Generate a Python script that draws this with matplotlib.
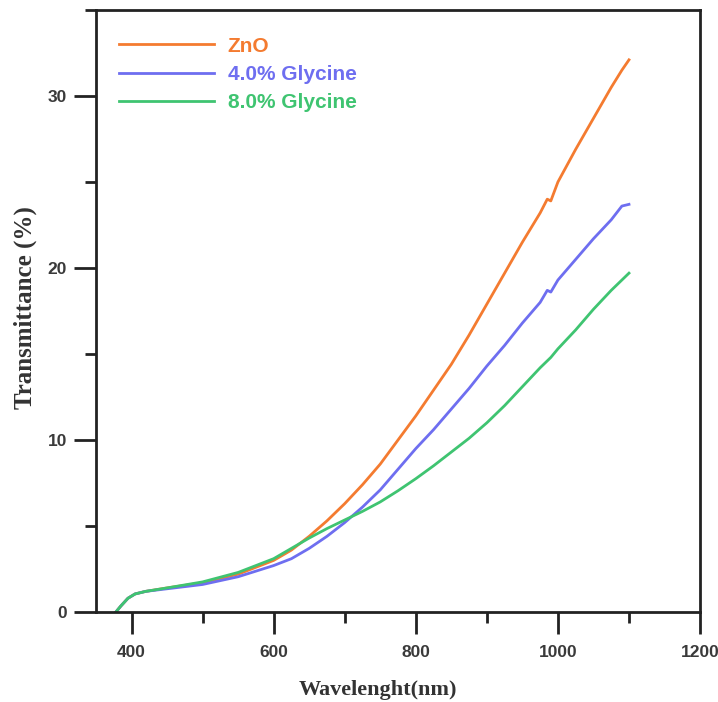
import matplotlib.pyplot as plt
from matplotlib.ticker import MultipleLocator

# --- data ---
wavelength = [378, 385, 395, 405, 420, 450, 500, 550, 600, 625, 650, 675, 700,
              725, 750, 775, 800, 825, 850, 875, 900, 925, 950, 975, 985, 990,
              1000, 1025, 1050, 1075, 1090, 1100]
zno = [0, 0.35, 0.8, 1.05, 1.2, 1.4, 1.7, 2.2, 3.0, 3.6, 4.4, 5.3, 6.3,
       7.4, 8.6, 10.0, 11.4, 12.9, 14.4, 16.1, 17.9, 19.7, 21.5, 23.2, 24.0, 23.9,
       25.0, 26.9, 28.7, 30.5, 31.5, 32.1]
gly4 = [0, 0.35, 0.8, 1.05, 1.2, 1.35, 1.6, 2.05, 2.7, 3.1, 3.7, 4.4, 5.2,
        6.1, 7.1, 8.3, 9.5, 10.6, 11.8, 13.0, 14.3, 15.5, 16.8, 18.0, 18.7, 18.6,
        19.3, 20.5, 21.7, 22.8, 23.6, 23.7]
gly8 = [0, 0.35, 0.8, 1.05, 1.2, 1.4, 1.75, 2.3, 3.1, 3.7, 4.3, 4.85, 5.35,
        5.85, 6.4, 7.05, 7.75, 8.5, 9.3, 10.1, 11.0, 12.0, 13.1, 14.2, 14.6, 14.8,
        15.3, 16.4, 17.6, 18.7, 19.3, 19.7]

labels = ['ZnO', '4.0% Glycine', '8.0% Glycine']
colors = ['#F47B30', '#6E6EF0', '#3FC471']

fig = plt.figure(figsize=(7.18, 7.02), dpi=100)
ax = fig.add_axes([0.1337, 0.1282, 0.8413, 0.8576])

for ys, lab, c in zip([zno, gly4, gly8], labels, colors):
    ax.plot(wavelength, ys, color=c, lw=2.0, label=lab)

ax.set_xlim(350, 1200)
ax.set_ylim(0, 35)
ax.xaxis.set_major_locator(MultipleLocator(200))
ax.xaxis.set_minor_locator(MultipleLocator(100))
ax.yaxis.set_major_locator(MultipleLocator(10))
ax.yaxis.set_minor_locator(MultipleLocator(5))
ax.set_xticks([400, 600, 800, 1000, 1200])

for s in ax.spines.values():
    s.set_linewidth(2.0)
    s.set_color('#222222')

ax.tick_params(which='major', direction='out', length=16, width=2, color='#222222',
               labelsize=12.5, labelcolor='#3a3a3a')
ax.tick_params(axis='x', which='major', pad=8)
ax.tick_params(axis='y', which='major', pad=5)
ax.tick_params(which='minor', direction='out', length=8, width=2, color='#222222')
for t in ax.get_xticklabels() + ax.get_yticklabels():
    t.set_fontweight('bold')
    t.set_family('Liberation Sans')

ax.set_xlabel('Wavelenght(nm)', family='Liberation Serif', fontweight='bold',
              fontsize=16, color='#333333')
ax.set_ylabel('Transmittance (%)', family='Liberation Serif', fontweight='bold',
              fontsize=18, color='#333333')
ax.xaxis.set_label_coords(0.467, -0.113)
ax.yaxis.set_label_coords(-0.098, 0.505)

leg = ax.legend(loc='upper left', bbox_to_anchor=(0.0065, 0.987), frameon=False,
                handlelength=4.56, handletextpad=0.67, labelspacing=0.45,
                prop={'family': 'Liberation Sans', 'weight': 'bold', 'size': 15},
                labelcolor='linecolor')

fig.savefig('out.png', dpi=100)
